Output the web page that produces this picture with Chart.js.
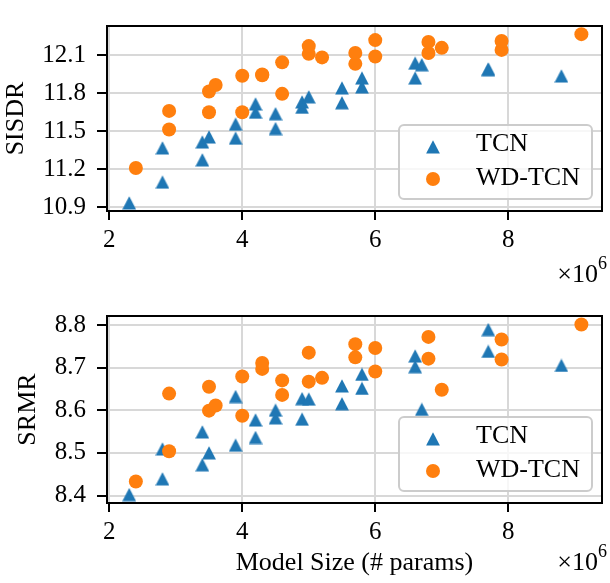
<!DOCTYPE html>
<html>
<head>
<meta charset="utf-8">
<script src="https://cdn.jsdelivr.net/npm/chart.js@4.4.0/dist/chart.umd.min.js"></script>
<style>
html,body{margin:0;padding:0;background:#fff;}
#top{position:absolute;left:0;top:0;width:610px;height:290px;}
#bottom{position:absolute;left:0;top:290px;width:610px;height:293px;}
</style>
</head>
<body>
<div id="top"><canvas id="c1"></canvas></div>
<div id="bottom"><canvas id="c2"></canvas></div>
<script>
// model size in millions of params
const sizeTCN=[2.3,2.8,2.8,3.4,3.4,3.5,3.9,3.9,4.2,4.2,4.5,4.5,4.9,4.9,5.0,5.5,5.5,5.8,5.8,6.6,6.6,6.7,7.7,7.7,8.8];
const sisdrTCN=[10.935,11.099,11.368,11.274,11.415,11.454,11.445,11.555,11.649,11.714,11.520,11.637,11.688,11.730,11.770,11.723,11.840,11.847,11.918,11.918,12.035,12.023,11.988,11.985,11.934];
const srmrTCN=[8.402,8.439,8.509,8.472,8.549,8.500,8.518,8.632,8.536,8.577,8.582,8.600,8.579,8.627,8.626,8.615,8.657,8.651,8.684,8.702,8.727,8.602,8.738,8.789,8.705];

const sizeWD=[2.4,2.9,2.9,3.5,3.5,3.6,4.0,4.0,4.3,4.3,4.6,4.6,5.0,5.0,5.2,5.7,5.7,6.0,6.0,6.8,6.8,7.0,7.9,7.9,9.1];
const sisdrWD=[11.211,11.513,11.660,11.649,11.812,11.864,11.649,11.936,11.946,11.940,11.794,12.042,12.109,12.170,12.081,12.030,12.116,12.088,12.217,12.116,12.203,12.156,12.140,12.210,12.264];
const srmrWD=[8.433,8.504,8.639,8.599,8.655,8.611,8.587,8.679,8.697,8.711,8.636,8.670,8.667,8.735,8.676,8.724,8.755,8.691,8.746,8.721,8.772,8.648,8.719,8.766,8.801];

const xTicks=[2,4,6,8];
const sisdrTicks=[10.9,11.2,11.5,11.8,12.1];
const srmrTicks=[8.4,8.5,8.6,8.7,8.8];
const seriesNames=["TCN","WD-TCN"];

const blue="#1f77b4", orange="#ff7f0e";
const FONT="Liberation Serif";

// matplotlib-like "^" marker
function triMarker(){
const c=document.createElement("canvas");
c.width=14;c.height=14;
const g=c.getContext("2d");
g.fillStyle=blue;
g.beginPath();
g.moveTo(7,0.2);g.lineTo(13.9,13.6);g.lineTo(0.1,13.6);
g.closePath();g.fill();
return c;
}
const tri=triMarker();

function pts(xs,ys){return xs.map((x,i)=>({x:x,y:ys[i]}));}

const frame={
id:"frame",
afterDraw(chart){
const ctx=chart.ctx, a=chart.chartArea;
ctx.save();
ctx.strokeStyle="#000";ctx.lineWidth=2;
ctx.strokeRect(a.left,a.top,a.right-a.left,a.bottom-a.top);

// legend box
const lx=a.right-203, ly=a.bottom-86, lw=193, lh=74;
ctx.beginPath();
ctx.roundRect(lx,ly,lw,lh,5);
ctx.fillStyle="rgba(255,255,255,0.8)";ctx.fill();
ctx.strokeStyle="#cccccc";ctx.lineWidth=2;ctx.stroke();
ctx.drawImage(tri,lx+34-7,ly+22-7);
ctx.beginPath();ctx.arc(lx+34,ly+54,7,0,Math.PI*2);
ctx.fillStyle=orange;ctx.fill();
ctx.fillStyle="#000";ctx.font="26px '"+FONT+"'";
ctx.textBaseline="alphabetic";ctx.textAlign="left";
ctx.fillText(seriesNames[0],lx+77,ly+26);
ctx.fillText(seriesNames[1],lx+77,ly+60);

// x10^6 offset text, right edge at 607
const oy=chart.options.plugins.frame.offsetY;
ctx.font="18px '"+FONT+"'";
const w6=ctx.measureText("6").width;
ctx.font="26px '"+FONT+"'";
const w10=ctx.measureText("\u00d710").width;
const sx=607-w6-w10;
ctx.fillText("\u00d710",sx,oy);
ctx.font="18px '"+FONT+"'";
ctx.fillText("6",sx+w10,oy-13);
ctx.restore();
}
};

function makeChart(id,yTVals,yMin,yMax,yTitle,yTitlePad,xTitle,padTop,xH,offsetY,tcnY,wdY){
return new Chart(document.getElementById(id),{
type:"scatter",
data:{datasets:[
{label:seriesNames[0],data:pts(sizeTCN,tcnY),pointStyle:tri,pointRadius:7,order:2},
{label:seriesNames[1],data:pts(sizeWD,wdY),pointStyle:"circle",pointRadius:7,pointBorderWidth:0,backgroundColor:orange,borderColor:orange,order:1}
]},
options:{
responsive:true,maintainAspectRatio:false,animation:false,events:[],
layout:{padding:{top:padTop,right:1,left:0,bottom:0}},
plugins:{legend:{display:false},tooltip:{enabled:false},frame:{offsetY:offsetY}},
scales:{
x:{
type:"linear",min:1.966,max:9.41,
afterBuildTicks:s=>{s.ticks=xTicks.map(v=>({value:v}));},
afterFit:s=>{s.height=xH;},
grid:{color:"#d8d8d8",lineWidth:2,tickLength:9,tickColor:"#000",tickWidth:2},
border:{color:"#000",width:2},
ticks:{color:"#000",font:{family:FONT,size:25},padding:5,maxRotation:0,callback:v=>String(v)},
title:{display:!!xTitle,text:xTitle,color:"#000",font:{family:FONT,size:26},padding:{top:0,bottom:4}}
},
y:{
min:yMin,max:yMax,
afterBuildTicks:s=>{s.ticks=yTVals.map(v=>({value:v}));},
afterFit:s=>{s.width=107;},
grid:{color:"#d8d8d8",lineWidth:2,tickLength:10,tickColor:"#000",tickWidth:2},
border:{color:"#000",width:2},
ticks:{color:"#000",font:{family:FONT,size:25},padding:11,callback:v=>v.toFixed(1)},
title:{display:true,text:yTitle,color:"#000",font:{family:FONT,size:26},padding:{top:yTitlePad,bottom:0}}
}
}
},
plugins:[frame]
});
}

makeChart("c1",sisdrTicks,10.872,12.328,"SISDR",1,"",3,79,282,sisdrTCN,sisdrWD);
makeChart("c2",srmrTicks,8.3825,8.821,"SRMR",13,"Model Size (# params)",4,80,280,srmrTCN,srmrWD);
</script>
</body>
</html>
